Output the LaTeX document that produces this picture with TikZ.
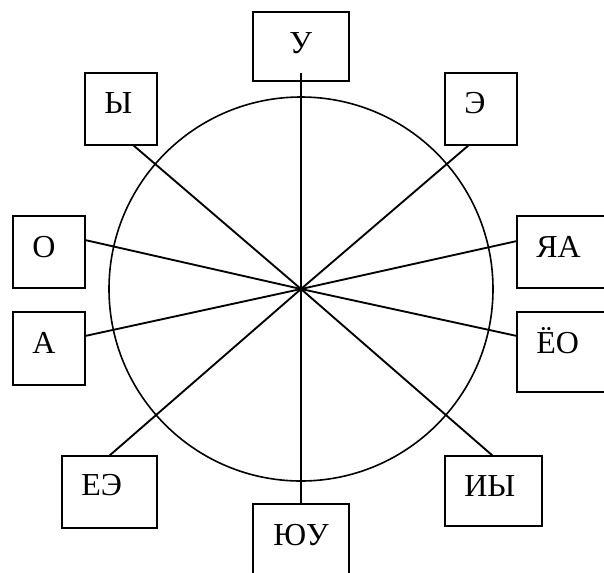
\documentclass[tikz,border=0pt]{standalone}
\usepackage{fontspec}
\setmainfont{Liberation Serif}
\usetikzlibrary{positioning,calc}

\tikzset{
  vbox/.style={draw,line width=1.7pt,rectangle,inner sep=0pt,outer sep=0pt,anchor=north west},
  vtext/.style={anchor=base west,inner sep=0pt,font=\fontsize{24}{28}\selectfont},
  spoke/.style={line width=1.4pt}
}

\begin{document}
\begin{tikzpicture}[x=0.75pt,y=-0.75pt]
\clip (0,0) rectangle (604,572);

% circle
\node[circle,draw,line width=1.2pt,minimum size=288pt,inner sep=0pt] (ring) at (301,289) {};
\coordinate (c) at (ring.center);

% boxes
\node[vbox,minimum width=72pt,minimum height=51.75pt] (ubox) at (253,12) {};
\node[vbox,minimum width=54pt,minimum height=54pt] (ybox) at (85,73) {};
\node[vbox,minimum width=54pt,minimum height=54pt] (ebox) at (445,73) {};
\node[vbox,minimum width=54pt,minimum height=54pt] (obox) at (13,216) {};
\node[vbox,minimum width=54pt,minimum height=54.75pt] (abox) at (13,312) {};
\node[vbox,minimum width=72pt,minimum height=54pt] (yabox) at (517,216) {};
\node[vbox,minimum width=72pt,minimum height=60pt] (yobox) at (517,312) {};
\node[vbox,minimum width=71.25pt,minimum height=54pt] (eebox) at (62,456) {};
\node[vbox,minimum width=72.75pt,minimum height=52.5pt] (iybox) at (445,456) {};
\node[vbox,minimum width=72pt,minimum height=60pt] (yubox) at (253,504) {};

% labels
\node[vtext] (utext) at ($(ubox.north west)+(36,41)$) {У};
\node[vtext] (ytext) at ($(ybox.north west)+(19,40)$) {Ы};
\node[vtext] (etext) at ($(ebox.north west)+(19,40)$) {Э};
\node[vtext] (otext) at ($(obox.north west)+(19,41)$) {О};
\node[vtext] (atext) at ($(abox.north west)+(19,41)$) {А};
\node[vtext] (yatext) at ($(yabox.north west)+(19,41)$) {ЯА};
\node[vtext] (yotext) at ($(yobox.north west)+(19,41)$) {ЁО};
\node[vtext] (eetext) at ($(eebox.north west)+(19,39)$) {ЕЭ};
\node[vtext] (iytext) at ($(iybox.north west)+(19,40)$) {ИЫ};
\node[vtext] (yutext) at ($(yubox.north west)+(20,41)$) {ЮУ};

% spoke ends
\coordinate (uend) at ($(ubox.south)+(0,-8)$);
\coordinate (yend) at ($(ybox.south west)+(48,0)$);
\coordinate (eend) at ($(ebox.south west)+(24,0)$);
\coordinate (oend) at ($(obox.north east)+(0,24)$);
\coordinate (aend) at ($(abox.north east)+(0,24)$);
\coordinate (yaend) at ($(yabox.north west)+(0,25)$);
\coordinate (yoend) at ($(yobox.north west)+(0,24)$);
\coordinate (eeend) at ($(eebox.north west)+(47,0)$);
\coordinate (iyend) at ($(iybox.north west)+(48,0)$);

% spokes
\draw[spoke] (uend) -- (yubox.north);
\draw[spoke] (yend) -- (c) -- (iyend);
\draw[spoke] (eend) -- (c) -- (eeend);
\draw[spoke] (oend) -- (c) -- (yoend);
\draw[spoke] (aend) -- (c) -- (yaend);
\end{tikzpicture}
\end{document}
